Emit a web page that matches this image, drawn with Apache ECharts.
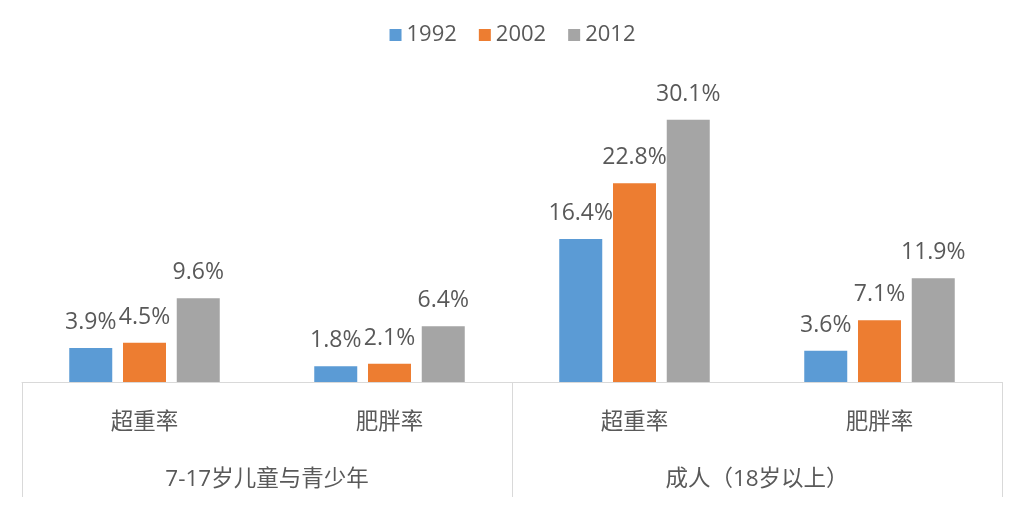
<!DOCTYPE html>
<html>
<head>
<meta charset="utf-8">
<script src="https://cdn.jsdelivr.net/npm/echarts@6/dist/echarts.min.js"></script>
<style>
html,body{margin:0;padding:0;background:#fff;}
#chart{width:1025px;height:508px;}
</style>
</head>
<body>
<div id="chart"></div>
<script>
const subCategories = ['超重率', '肥胖率', '超重率', '肥胖率'];
const groupCategories = ['7-17岁儿童与青少年', '成人（18岁以上）'];
const seriesNames = ['1992', '2002', '2012'];
const values1992 = [3.9, 1.8, 16.4, 3.6];
const values2002 = [4.5, 2.1, 22.8, 7.1];
const values2012 = [9.6, 6.4, 30.1, 11.9];
const colors = ['#5B9BD5', '#ED7D31', '#A5A5A5'];

const font = "'Open Sans', 'Noto Sans CJK SC', sans-serif";
const textColor = '#595959';
const lineColor = '#D9D9D9';

const allValues = [values1992, values2002, values2012];
const chart = echarts.init(document.getElementById('chart'), null, {renderer: 'canvas'});
chart.setOption({
  animation: false,
  color: colors,
  textStyle: {fontFamily: font},
  legend: {
    top: 19,
    left: 'center',
    icon: 'rect',
    itemWidth: 12,
    itemHeight: 12,
    itemGap: 22,
    textStyle: {fontSize: 22, color: textColor, fontFamily: font},
    data: seriesNames
  },
  grid: {left: 22, right: 23, top: 77, bottom: 126, containLabel: false},
  xAxis: [
    {
      type: 'category',
      data: subCategories,
      position: 'bottom',
      axisLine: {show: true, lineStyle: {color: lineColor, width: 1}},
      axisTick: {show: false},
      axisLabel: {fontSize: 22.5, color: textColor, margin: 29, fontFamily: font}
    },
    {
      type: 'category',
      data: groupCategories,
      position: 'bottom',
      offset: 0,
      axisLine: {show: false},
      axisTick: {show: true, length: 115, alignWithLabel: false, lineStyle: {color: lineColor, width: 1}},
      axisLabel: {fontSize: 22.5, color: textColor, margin: 86, fontFamily: font}
    }
  ],
  yAxis: {
    type: 'value',
    min: 0,
    max: 35,
    show: false,
    splitLine: {show: false}
  },
  series: seriesNames.map((name, i) => ({
    name: name,
    type: 'bar',
    xAxisIndex: 0,
    data: allValues[i],
    barWidth: 43,
    barGap: '25%',
    itemStyle: {color: colors[i]},
    label: {
      show: true,
      position: 'top',
      distance: 14,
      fontSize: 23,
      color: textColor,
      fontFamily: font,
      formatter: p => p.value.toFixed(1) + '%'
    }
  }))
});
</script>
</body>
</html>
